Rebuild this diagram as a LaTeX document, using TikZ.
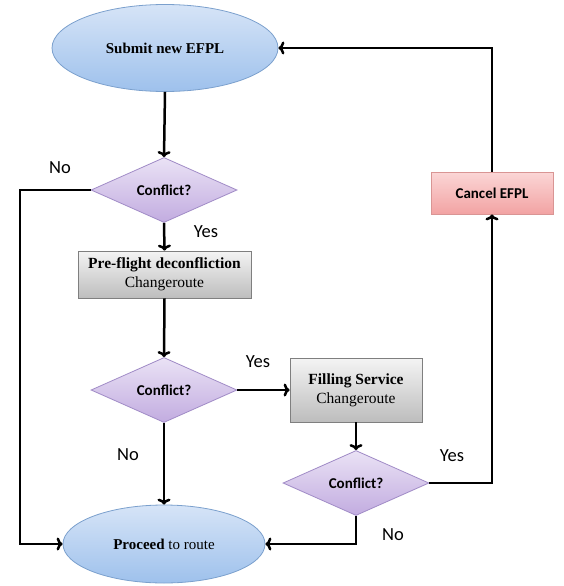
\documentclass[tikz,border=0pt]{standalone}
\usepackage{fontspec}
\setmainfont{Liberation Serif}
\newfontfamily\calfont{Carlito}
\usetikzlibrary{shapes.geometric,arrows.meta}
\definecolor{ellTop}{HTML}{D6E4F7}
\definecolor{ellBot}{HTML}{9EC1EC}
\definecolor{ellLine}{HTML}{7BA0CD}
\definecolor{diaTop}{HTML}{EAE2F5}
\definecolor{diaBot}{HTML}{C2ACE0}
\definecolor{diaLine}{HTML}{A08BC6}
\definecolor{boxTop}{HTML}{F4F4F4}
\definecolor{boxBot}{HTML}{BDBDBD}
\definecolor{boxLine}{HTML}{7F7F7F}
\definecolor{canTop}{HTML}{FBD6D6}
\definecolor{canBot}{HTML}{F2A3A3}
\definecolor{canLine}{HTML}{D99594}
\begin{document}
\begin{tikzpicture}[x=1pt,y=-1pt,
  term/.style={ellipse, draw=ellLine, line width=0.8pt, top color=ellTop, bottom color=ellBot,
    inner sep=0pt, font=\bfseries\fontsize{15}{17}\selectfont},
  dec/.style={diamond, draw=diaLine, line width=0.8pt, top color=diaTop, bottom color=diaBot,
    inner sep=0pt, minimum width=146pt, minimum height=64pt, font=\calfont\bfseries\fontsize{15}{17}\selectfont},
  grey/.style={rectangle, draw=boxLine, line width=0.8pt, top color=boxTop, bottom color=boxBot,
    inner sep=0pt, align=center, font=\fontsize{15.5}{19}\selectfont},
  cancelbox/.style={rectangle, draw=canLine, line width=0.8pt, top color=canTop, bottom color=canBot,
    inner sep=0pt, minimum width=122pt, minimum height=42pt, font=\calfont\bfseries\fontsize{15}{17}\selectfont},
  flow/.style={line width=2.5pt, -{To[length=6pt,width=13pt]}},
  lbl/.style={font=\calfont\fontsize{18.5}{20}\selectfont, inner sep=0pt}
]
\useasboundingbox (0,0) rectangle (564,586);

\node[term, minimum width=226pt, minimum height=87pt] (sub) at (165,48) {Submit new EFPL};
\node[dec] (d1) at (164,190) {Conflict?};
\node[grey, minimum width=173pt, minimum height=47pt] (pre) at (164.5,274.5)
  {\textbf{Pre-flight deconfliction}\\Changeroute};
\node[dec] (d2) at (164,390) {Conflict?};
\node[grey, minimum width=132pt, minimum height=64pt] (fill) at (356,390)
  {\textbf{Filling Service}\\Changeroute};
\node[dec, minimum height=63pt] (d3) at (356,483) {Conflict?};
\node[cancelbox] (can) at (492,193) {Cancel EFPL};
\node[term, minimum width=202pt, minimum height=78pt] (proc) at (164,544)
  {Proceed {\mdseries to route}};

\coordinate (tl) at (20,190);
\coordinate (bl) at (20,544);
\coordinate (tr) at (492,48);
\coordinate (br) at (492,483);
\coordinate (d3b) at (356,544);

\draw[flow] (sub.south) -- (d1.north);
\draw[flow] (d1.south) -- (pre.north);
\draw[flow] (pre.south) -- (d2.north);
\draw[flow] (d2.east) -- (fill.west);
\draw[flow] (fill.south) -- (d3.north);
\draw[flow] (d2.south) -- (proc.north);
\draw[flow] (d1.west) -- (tl) -- (bl) -- (proc.west);
\draw[flow] (d3.south) -- (d3b) -- (proc.east);
\draw[flow] (d3.east) -- (br) -- (can.south);
\draw[flow] (can.north) -- (tr) -- (sub.east);

\node[lbl] (n1) at (60,168) {No};
\node[lbl] (y1) at (206,232) {Yes};
\node[lbl] (y2) at (258,362) {Yes};
\node[lbl] (n2) at (128,455) {No};
\node[lbl] (y3) at (452,456) {Yes};
\node[lbl] (n3) at (393,535) {No};
\end{tikzpicture}
\end{document}
